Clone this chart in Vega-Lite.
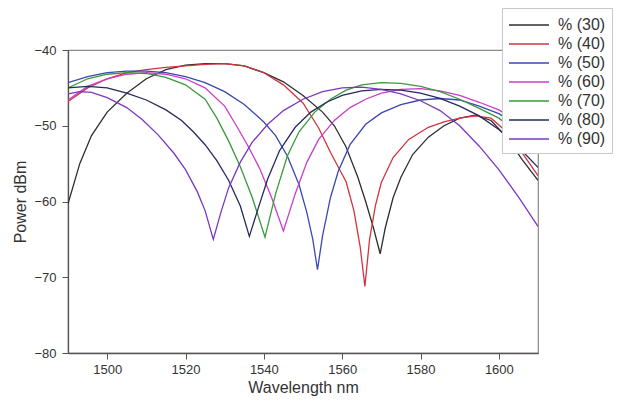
{
  "$schema": "https://vega.github.io/schema/vega-lite/v6.json",
  "width": 470,
  "height": 303,
  "autosize": {"type": "none"},
  "padding": {"left": 68, "top": 50, "right": 81, "bottom": 48},
  "config": {"font": "Liberation Sans", "view": {"stroke": "#8a8a8a", "strokeWidth": 1.2}},
  "data": {"values": [
    {"s":"% (30)","w":1490,"v":-60.3},{"s":"% (30)","w":1493,"v":-55.0},{"s":"% (30)","w":1496,"v":-51.3},{"s":"% (30)","w":1500,"v":-48.2},{"s":"% (30)","w":1505,"v":-45.7},{"s":"% (30)","w":1510,"v":-43.8},{"s":"% (30)","w":1515,"v":-42.6},{"s":"% (30)","w":1520,"v":-42.0},{"s":"% (30)","w":1525,"v":-41.8},{"s":"% (30)","w":1530,"v":-41.8},{"s":"% (30)","w":1535,"v":-42.1},{"s":"% (30)","w":1540,"v":-43.0},{"s":"% (30)","w":1545,"v":-44.2},{"s":"% (30)","w":1550,"v":-46.0},{"s":"% (30)","w":1555,"v":-48.2},{"s":"% (30)","w":1558,"v":-50.0},{"s":"% (30)","w":1561,"v":-52.8},{"s":"% (30)","w":1564,"v":-56.8},{"s":"% (30)","w":1566,"v":-60.0},{"s":"% (30)","w":1568,"v":-63.5},{"s":"% (30)","w":1569.7,"v":-66.9},{"s":"% (30)","w":1571,"v":-63.5},{"s":"% (30)","w":1573,"v":-59.5},{"s":"% (30)","w":1575,"v":-56.8},{"s":"% (30)","w":1578,"v":-53.8},{"s":"% (30)","w":1582,"v":-51.5},{"s":"% (30)","w":1586,"v":-50.0},{"s":"% (30)","w":1590,"v":-49.0},{"s":"% (30)","w":1594,"v":-48.6},{"s":"% (30)","w":1598,"v":-49.3},{"s":"% (30)","w":1602,"v":-51.5},{"s":"% (30)","w":1606,"v":-54.5},{"s":"% (30)","w":1610,"v":-57.2},

    {"s":"% (40)","w":1490,"v":-46.8},{"s":"% (40)","w":1495,"v":-45.0},{"s":"% (40)","w":1500,"v":-43.8},{"s":"% (40)","w":1505,"v":-43.0},{"s":"% (40)","w":1510,"v":-42.6},{"s":"% (40)","w":1515,"v":-42.3},{"s":"% (40)","w":1520,"v":-42.1},{"s":"% (40)","w":1525,"v":-41.9},{"s":"% (40)","w":1530,"v":-41.8},{"s":"% (40)","w":1535,"v":-42.1},{"s":"% (40)","w":1540,"v":-43.0},{"s":"% (40)","w":1545,"v":-44.6},{"s":"% (40)","w":1550,"v":-47.0},{"s":"% (40)","w":1554,"v":-50.3},{"s":"% (40)","w":1557,"v":-53.5},{"s":"% (40)","w":1561,"v":-57.4},{"s":"% (40)","w":1563,"v":-61.2},{"s":"% (40)","w":1564.6,"v":-66.0},{"s":"% (40)","w":1565.8,"v":-71.2},{"s":"% (40)","w":1567,"v":-65.0},{"s":"% (40)","w":1568.5,"v":-60.5},{"s":"% (40)","w":1570,"v":-57.5},{"s":"% (40)","w":1573,"v":-54.2},{"s":"% (40)","w":1577,"v":-51.8},{"s":"% (40)","w":1582,"v":-50.2},{"s":"% (40)","w":1586,"v":-49.5},{"s":"% (40)","w":1590,"v":-49.0},{"s":"% (40)","w":1594,"v":-48.7},{"s":"% (40)","w":1598,"v":-49.0},{"s":"% (40)","w":1602,"v":-50.8},{"s":"% (40)","w":1606,"v":-53.6},{"s":"% (40)","w":1610,"v":-56.6},

    {"s":"% (50)","w":1490,"v":-44.3},{"s":"% (50)","w":1495,"v":-43.5},{"s":"% (50)","w":1500,"v":-43.0},{"s":"% (50)","w":1505,"v":-42.8},{"s":"% (50)","w":1510,"v":-42.8},{"s":"% (50)","w":1515,"v":-43.0},{"s":"% (50)","w":1520,"v":-43.5},{"s":"% (50)","w":1525,"v":-44.3},{"s":"% (50)","w":1530,"v":-45.5},{"s":"% (50)","w":1535,"v":-47.2},{"s":"% (50)","w":1540,"v":-49.5},{"s":"% (50)","w":1543,"v":-51.3},{"s":"% (50)","w":1546,"v":-54.0},{"s":"% (50)","w":1549,"v":-57.8},{"s":"% (50)","w":1551,"v":-61.5},{"s":"% (50)","w":1552.5,"v":-65.0},{"s":"% (50)","w":1553.7,"v":-69.0},{"s":"% (50)","w":1555,"v":-64.5},{"s":"% (50)","w":1557,"v":-59.5},{"s":"% (50)","w":1559,"v":-56.0},{"s":"% (50)","w":1562,"v":-52.5},{"s":"% (50)","w":1566,"v":-49.8},{"s":"% (50)","w":1570,"v":-48.3},{"s":"% (50)","w":1575,"v":-47.2},{"s":"% (50)","w":1580,"v":-46.6},{"s":"% (50)","w":1585,"v":-46.4},{"s":"% (50)","w":1590,"v":-46.6},{"s":"% (50)","w":1595,"v":-47.4},{"s":"% (50)","w":1600,"v":-48.4},{"s":"% (50)","w":1605,"v":-50.0},{"s":"% (50)","w":1610,"v":-52.0},

    {"s":"% (60)","w":1490,"v":-46.6},{"s":"% (60)","w":1495,"v":-44.8},{"s":"% (60)","w":1500,"v":-43.8},{"s":"% (60)","w":1505,"v":-43.2},{"s":"% (60)","w":1510,"v":-43.0},{"s":"% (60)","w":1515,"v":-43.2},{"s":"% (60)","w":1520,"v":-43.8},{"s":"% (60)","w":1525,"v":-45.0},{"s":"% (60)","w":1530,"v":-47.4},{"s":"% (60)","w":1533,"v":-50.0},{"s":"% (60)","w":1536,"v":-52.7},{"s":"% (60)","w":1539,"v":-55.7},{"s":"% (60)","w":1542,"v":-59.5},{"s":"% (60)","w":1545,"v":-63.9},{"s":"% (60)","w":1548,"v":-59.0},{"s":"% (60)","w":1551,"v":-54.8},{"s":"% (60)","w":1554,"v":-51.8},{"s":"% (60)","w":1558,"v":-49.3},{"s":"% (60)","w":1562,"v":-47.6},{"s":"% (60)","w":1566,"v":-46.5},{"s":"% (60)","w":1570,"v":-45.7},{"s":"% (60)","w":1575,"v":-45.2},{"s":"% (60)","w":1580,"v":-45.1},{"s":"% (60)","w":1585,"v":-45.4},{"s":"% (60)","w":1590,"v":-46.0},{"s":"% (60)","w":1595,"v":-46.9},{"s":"% (60)","w":1600,"v":-47.9},{"s":"% (60)","w":1605,"v":-49.5},{"s":"% (60)","w":1610,"v":-51.5},

    {"s":"% (70)","w":1490,"v":-45.0},{"s":"% (70)","w":1495,"v":-43.8},{"s":"% (70)","w":1500,"v":-43.2},{"s":"% (70)","w":1505,"v":-43.0},{"s":"% (70)","w":1510,"v":-43.1},{"s":"% (70)","w":1515,"v":-43.6},{"s":"% (70)","w":1520,"v":-44.6},{"s":"% (70)","w":1525,"v":-46.5},{"s":"% (70)","w":1528,"v":-49.0},{"s":"% (70)","w":1531,"v":-52.0},{"s":"% (70)","w":1534,"v":-55.4},{"s":"% (70)","w":1537,"v":-59.4},{"s":"% (70)","w":1540.3,"v":-64.7},{"s":"% (70)","w":1543,"v":-59.0},{"s":"% (70)","w":1546,"v":-54.0},{"s":"% (70)","w":1549,"v":-50.8},{"s":"% (70)","w":1553,"v":-48.2},{"s":"% (70)","w":1557,"v":-46.5},{"s":"% (70)","w":1561,"v":-45.3},{"s":"% (70)","w":1565,"v":-44.6},{"s":"% (70)","w":1570,"v":-44.3},{"s":"% (70)","w":1575,"v":-44.4},{"s":"% (70)","w":1580,"v":-44.8},{"s":"% (70)","w":1585,"v":-45.5},{"s":"% (70)","w":1590,"v":-46.5},{"s":"% (70)","w":1595,"v":-47.7},{"s":"% (70)","w":1600,"v":-49.0},{"s":"% (70)","w":1605,"v":-51.0},{"s":"% (70)","w":1610,"v":-53.5},

    {"s":"% (80)","w":1490,"v":-45.0},{"s":"% (80)","w":1495,"v":-44.8},{"s":"% (80)","w":1500,"v":-45.0},{"s":"% (80)","w":1505,"v":-45.7},{"s":"% (80)","w":1510,"v":-46.6},{"s":"% (80)","w":1515,"v":-47.9},{"s":"% (80)","w":1519,"v":-49.3},{"s":"% (80)","w":1522,"v":-50.8},{"s":"% (80)","w":1525,"v":-52.5},{"s":"% (80)","w":1528,"v":-54.6},{"s":"% (80)","w":1531,"v":-57.2},{"s":"% (80)","w":1534,"v":-60.6},{"s":"% (80)","w":1536.3,"v":-64.6},{"s":"% (80)","w":1538.5,"v":-61.0},{"s":"% (80)","w":1541,"v":-57.0},{"s":"% (80)","w":1544,"v":-53.3},{"s":"% (80)","w":1548,"v":-50.2},{"s":"% (80)","w":1552,"v":-48.2},{"s":"% (80)","w":1556,"v":-46.9},{"s":"% (80)","w":1560,"v":-46.0},{"s":"% (80)","w":1565,"v":-45.4},{"s":"% (80)","w":1570,"v":-45.2},{"s":"% (80)","w":1575,"v":-45.3},{"s":"% (80)","w":1580,"v":-45.7},{"s":"% (80)","w":1585,"v":-46.4},{"s":"% (80)","w":1590,"v":-47.4},{"s":"% (80)","w":1595,"v":-48.7},{"s":"% (80)","w":1600,"v":-50.5},{"s":"% (80)","w":1605,"v":-52.8},{"s":"% (80)","w":1610,"v":-55.5},

    {"s":"% (90)","w":1490,"v":-45.8},{"s":"% (90)","w":1493,"v":-45.5},{"s":"% (90)","w":1496,"v":-45.6},{"s":"% (90)","w":1500,"v":-46.3},{"s":"% (90)","w":1505,"v":-47.6},{"s":"% (90)","w":1509,"v":-49.2},{"s":"% (90)","w":1513,"v":-51.2},{"s":"% (90)","w":1517,"v":-53.6},{"s":"% (90)","w":1520,"v":-55.8},{"s":"% (90)","w":1523,"v":-58.7},{"s":"% (90)","w":1525,"v":-61.2},{"s":"% (90)","w":1527.1,"v":-65.0},{"s":"% (90)","w":1529,"v":-61.5},{"s":"% (90)","w":1531,"v":-58.2},{"s":"% (90)","w":1534,"v":-54.8},{"s":"% (90)","w":1537,"v":-52.2},{"s":"% (90)","w":1541,"v":-49.8},{"s":"% (90)","w":1545,"v":-48.0},{"s":"% (90)","w":1550,"v":-46.5},{"s":"% (90)","w":1555,"v":-45.5},{"s":"% (90)","w":1560,"v":-45.0},{"s":"% (90)","w":1565,"v":-44.9},{"s":"% (90)","w":1570,"v":-45.2},{"s":"% (90)","w":1575,"v":-45.8},{"s":"% (90)","w":1580,"v":-46.7},{"s":"% (90)","w":1585,"v":-48.0},{"s":"% (90)","w":1590,"v":-50.0},{"s":"% (90)","w":1595,"v":-52.7},{"s":"% (90)","w":1600,"v":-55.8},{"s":"% (90)","w":1605,"v":-59.4},{"s":"% (90)","w":1610,"v":-63.3}
  ]},
  "mark": {"type": "line", "strokeWidth": 1.3, "clip": true},
  "encoding": {
    "x": {"field": "w", "type": "quantitative",
      "scale": {"domain": [1490, 1610], "nice": false, "zero": false},
      "axis": {"title": "Wavelength nm", "values": [1500, 1520, 1540, 1560, 1580, 1600], "format": "d",
        "grid": false, "tickSize": 6, "tickColor": "#555", "domainColor": "#555", "domainWidth": 1.3,
        "labelFontSize": 13, "labelColor": "#333", "labelPadding": 4,
        "titleFontSize": 16, "titleFontWeight": "normal", "titleColor": "#333", "titlePadding": 3}},
    "y": {"field": "v", "type": "quantitative",
      "scale": {"domain": [-80, -40], "nice": false, "zero": false},
      "axis": {"title": "Power dBm", "values": [-80, -70, -60, -50, -40],
        "grid": false, "tickSize": 6, "tickColor": "#555", "domainColor": "#555", "domainWidth": 1.3,
        "labelFontSize": 13, "labelColor": "#333", "labelPadding": 6,
        "titleFontSize": 16, "titleFontWeight": "normal", "titleColor": "#333", "titlePadding": 5}},
    "color": {"field": "s", "type": "nominal",
      "scale": {"domain": ["% (30)", "% (40)", "% (50)", "% (60)", "% (70)", "% (80)", "% (90)"],
        "range": ["#2e2e2e", "#d0343f", "#3a48b0", "#cc3ccc", "#3a9a3a", "#262a5c", "#7a38c0"]},
      "legend": {"orient": "none", "legendX": 434, "legendY": -42, "title": null,
        "fillColor": "white", "strokeColor": "#c8c8c8", "padding": 6,
        "symbolType": "M-1,0H3", "symbolSize": 400, "symbolStrokeWidth": 1.5,
        "labelFontSize": 16, "labelColor": "#333", "labelOffset": 28, "rowPadding": 0}}
  }
}
